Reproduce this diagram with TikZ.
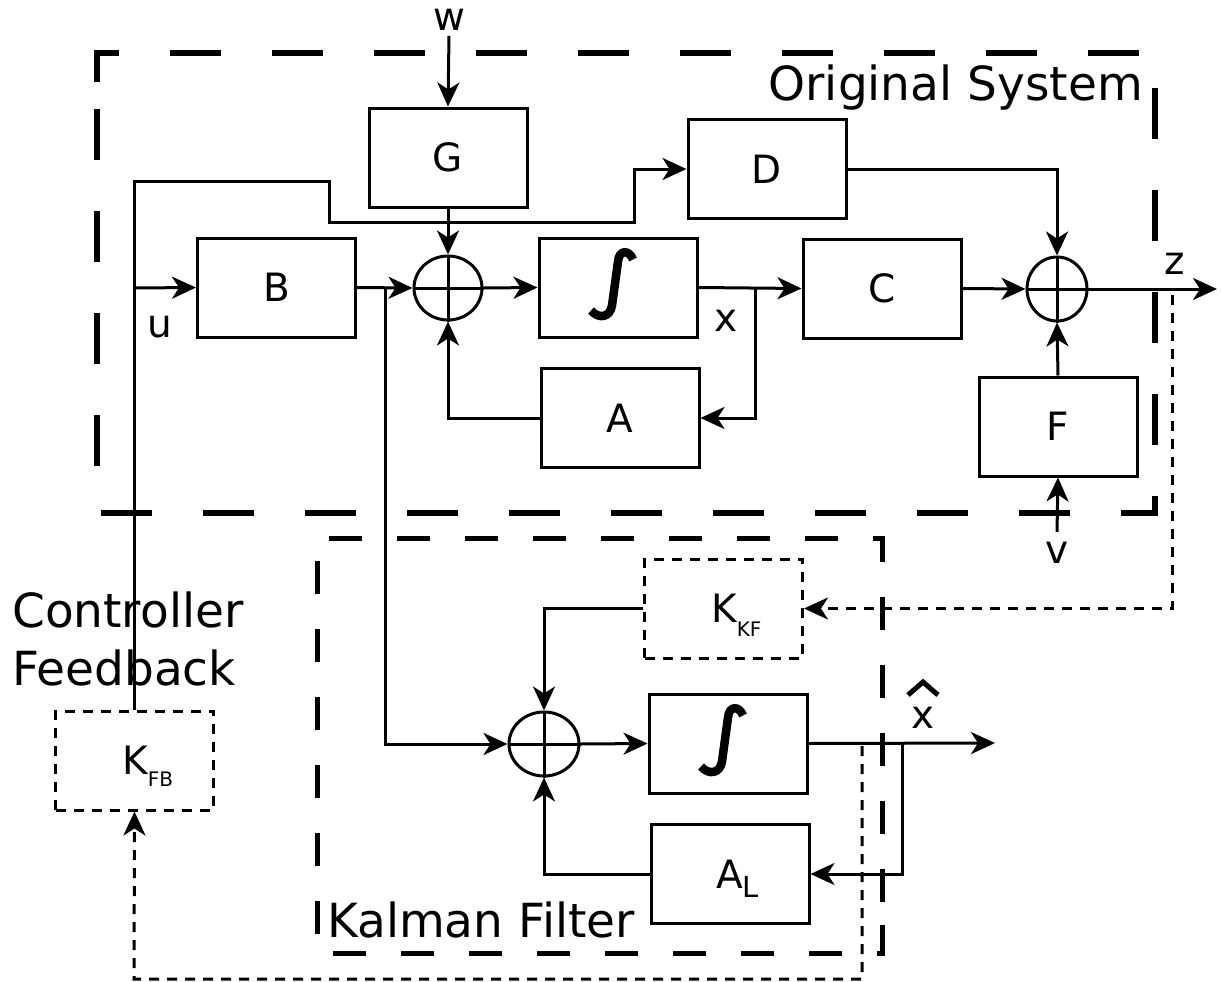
\documentclass[tikz,border=0pt]{standalone}
\usepackage{fontspec}
\setmainfont{DejaVu Sans}
\usetikzlibrary{arrows.meta,shapes.geometric}
\begin{document}
\begin{tikzpicture}[x=1pt,y=-1pt,
  blk/.style={draw,line width=3pt,minimum width=158pt,minimum height=99pt,inner sep=0pt,font=\fontsize{39}{39}\selectfont},
  dblk/.style={blk,dash pattern=on 10pt off 8pt},
  sumn/.style={draw,ellipse,line width=3pt,inner sep=0pt},
  lbl/.style={font=\fontsize{39}{39}\selectfont,inner sep=0pt},
  big/.style={font=\fontsize{47}{47}\selectfont,inner sep=0pt},
  conn/.style={line width=3pt},
  arr/.style={conn,-{Stealth[length=24pt,width=22pt,inset=7pt]}},
  darr/.style={arr,dash pattern=on 10pt off 8pt},
  integral/.pic={\draw[line width=8.5pt] (15,-28) .. controls (11,-38) and (1,-38) .. (0,-26) -- (-6,18) .. controls (-8,30) and (-19,32) .. (-27,23);}
]
\useasboundingbox (0,0) rectangle (1221,982);

% group frames
\draw[line width=6pt,dash pattern=on 51pt off 51pt] (97,82) -- (97,53) -- (1155,53) -- (1155,513) -- (97,513) -- cycle;
\draw[line width=5pt,dash pattern=on 33pt off 35pt] (882,925) -- (882,953) -- (317,953) -- (317,538) -- (882,538) -- cycle;
\node[big,anchor=base east] (os) at (1143,100) {Original System};
\node[big,anchor=base west] (kf) at (327,937) {Kalman Filter};
\node[big,anchor=base west] (cf1) at (12,627) {Controller};
\node[big,anchor=base west] (cf2) at (12,685) {Feedback};

% blocks
\node[blk] (G) at (448,157.5) {G};
\node[blk] (D) at (767,169) {D};
\node[blk] (B) at (276.5,287.5) {B};
\node[blk] (I1) at (618,287.5) {};
\pic at (I1) {integral};
\node[blk] (C) at (882,288.5) {C};
\node[blk] (A) at (620,418) {A};
\node[blk] (F) at (1058,426.5) {F};
\node[dblk] (KKF) at (723.5,608.5) {};
\node[lbl,anchor=base west] (kkft) at (711,622) {K\raisebox{-14pt}{\fontsize{20}{20}\selectfont KF}};
\node[blk] (I2) at (728,743.5) {};
\pic at (I2) {integral};
\node[blk] (AL) at (730,874) {};
\node[lbl,anchor=base west] (alt) at (716,888) {A\raisebox{-9pt}{\fontsize{29}{29}\selectfont L}};
\node[dblk] (KFB) at (134.5,760.5) {};
\node[lbl,anchor=base west] (kfbt) at (122,774) {K\raisebox{-12pt}{\fontsize{20}{20}\selectfont FB}};

% summing junctions
\node[sumn,minimum width=68pt,minimum height=64pt] (s1) at (448,288) {};
\node[sumn,minimum width=60pt,minimum height=64pt] (s2) at (1057,289) {};
\node[sumn,minimum width=70pt,minimum height=64pt] (s3) at (544,744) {};
\foreach \s in {s1,s2,s3}{\draw[conn] (\s.north) -- (\s.south) (\s.west) -- (\s.east);}

% labels
\node[lbl,inner sep=5pt] (w) at (449,20) {w};
\node[lbl] (u) at (160,327) {u};
\node[lbl] (x) at (726,321) {x};
\node[lbl] (z) at (1175,264) {z};
\node[lbl] (v) at (1057,553) {v};
\node[lbl] (xh) at (923,718) {x};
\draw[line width=5pt] (908,695) -- (923,682) -- (938,695);

% coordinates
\coordinate (u1) at (134,288);
\coordinate (bb) at (385,288);
\coordinate (xb) at (755,288);
\coordinate (zb) at (1172,295);
\coordinate (zend) at (1217,289);
\coordinate (v0) at (1057,532);
\coordinate (xhend) at (995,743);
\coordinate (xb2) at (902,744);
\coordinate (kb) at (862,746);

% connectors original system
\draw[arr] (w.south) -- (G.north);
\draw[arr] (G.south) -- (s1.north);
\draw[arr] (B.east) -- (s1.west);
\draw[arr] (s1.east) -- (I1.west);
\draw[arr] (I1.east) -- (C.west);
\draw[arr] (xb) |- (A.east);
\draw[arr] (A.west) -| (s1.south);
\draw[arr] (C.east) -- (s2.west);
\draw[arr] (D.east) -| (s2.north);
\draw[arr] (F.north) -- (s2.south);
\draw[arr] (v0) -- (F.south);
\draw[arr] (s2.east) -- (zend);
\draw[arr] (KFB.north) |- (329,181) |- (634,222) |- (D.west);
\draw[arr] (u1) -- (B.west);
\draw[arr] (bb) |- (s3.west);

% Kalman filter
\draw[darr] (zb) |- (KKF.east);
\draw[arr] (KKF.west) -| (s3.north);
\draw[arr] (s3.east) -- (I2.west);
\draw[arr] (I2.east) -- (xhend);
\draw[arr] (xb2) |- (AL.east);
\draw[arr] (AL.west) -| (s3.south);
\draw[darr] (kb) |- (134,979) -- (KFB.south);
\end{tikzpicture}
\end{document}
